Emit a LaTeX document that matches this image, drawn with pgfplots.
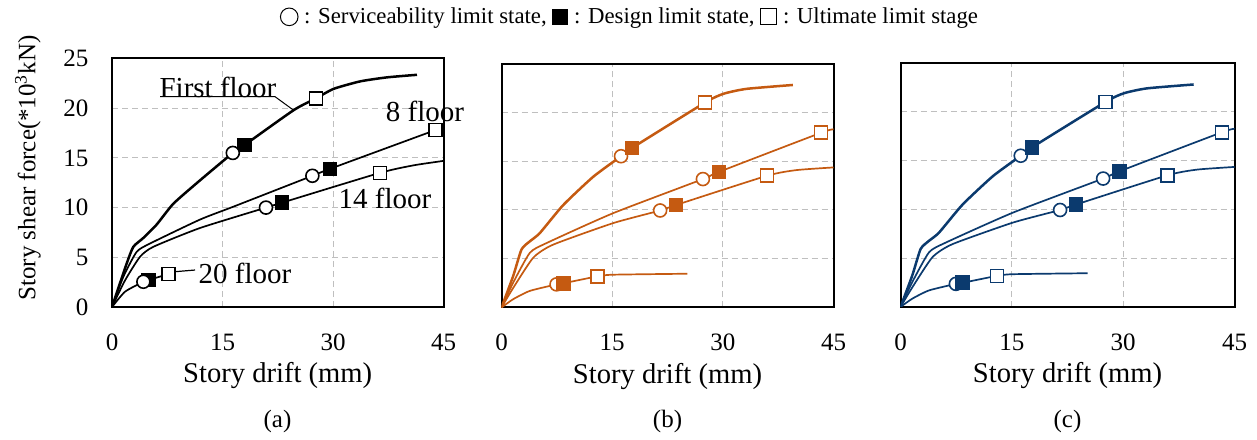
\documentclass[border=0pt]{standalone}
\usepackage{fontspec}
\setmainfont{Liberation Serif}
\usepackage{pgfplots}
\usepackage{pgfplotstable}
\pgfplotsset{compat=1.18}
\definecolor{orng}{RGB}{197,90,17}
\definecolor{dblue}{RGB}{11,58,110}
\definecolor{gridc}{RGB}{191,191,191}

% ---- panel (a) data ----
\pgfplotstableread{
x y
0 0
2.0 4.39
2.9 6.06
4.26 6.95
6.07 8.3
8.34 10.4
11.96 12.75
16.4 15.5
18.0 16.3
24.65 19.8
27.7 21.0
30.1 21.95
33.7 22.7
37.3 23.1
41.4 23.36
}\AfirstTab
\pgfplotstableread{
x y
0 0
1.54 3.04
3.35 5.55
5.17 6.39
11.96 8.8
16.5 10.1
27.2 13.2
29.6 13.9
43.9 17.8
45 18.1
}\AeightTab
\pgfplotstableread{
x y
0 0
1.77 2.68
3.8 5.05
5.62 6.06
11.96 7.95
20.9 10.0
23.1 10.5
36.4 13.5
41.0 14.26
45 14.7
}\AfourteenTab
\pgfplotstableread{
x y
0 0
1.77 1.54
4.26 2.54
4.94 2.71
7.65 3.31
}\AtwentyTab
\pgfplotstableread{
x y
16.4 15.5
27.2 13.2
20.9 10.0
4.26 2.54
}\AcircTab
\pgfplotstableread{
x y
18.0 16.3
29.6 13.9
23.1 10.5
4.94 2.71
}\AfillTab
\pgfplotstableread{
x y
27.7 21.0
43.9 17.8
36.4 13.5
7.65 3.31
}\AopenTab

% ---- panels (b),(c) data ----
\pgfplotstableread{
x y
0 0
1.58 3.22
2.71 5.94
3.84 6.78
5.2 7.63
8.37 10.5
12.44 13.4
16.2 15.5
17.7 16.35
27.6 21.0
30.1 21.9
33.2 22.4
39.5 22.8
}\BfirstTab
\pgfplotstableread{
x y
0 0
1.58 2.54
3.84 5.6
6.1 6.6
15.15 9.67
27.3 13.16
29.5 13.9
43.3 17.9
45 18.25
}\BeightTab
\pgfplotstableread{
x y
0 0
1.58 2.0
4.3 5.1
7.0 6.44
15.15 8.65
21.5 9.94
23.65 10.5
36.0 13.5
40.0 14.08
45 14.35
}\BfourteenTab
\pgfplotstableread{
x y
0 0
1.58 0.85
3.84 1.7
7.46 2.37
8.37 2.48
13.0 3.19
15.15 3.36
25.2 3.46
}\BtwentyTab
\pgfplotstableread{
x y
16.2 15.5
27.3 13.16
21.5 9.94
7.46 2.37
}\BcircTab
\pgfplotstableread{
x y
17.7 16.35
29.5 13.9
23.65 10.5
8.37 2.48
}\BfillTab
\pgfplotstableread{
x y
27.6 21.0
43.3 17.9
36.0 13.5
13.0 3.19
}\BopenTab

\pgfplotsset{
  panel/.style={
    scale only axis,
    anchor=south west,
    xmin=0, xmax=45, ymin=0, ymax=25,
    xtick={0,15,30,45}, ytick={0,5,10,15,20,25},
    grid=major,
    major grid style={gridc, dash pattern=on 3pt off 2pt, line width=0.5pt},
    axis line style={line width=1pt},
    major tick length=0pt,
    clip mode=individual,
    /pgf/number format/assume math mode=true,
    ticklabel style={font=\fontsize{12.5}{15}\selectfont},
    xticklabel style={anchor=base, yshift=-21.5pt},
    yticklabel style={anchor=east, xshift=-8.3pt},
    xlabel={Story drift (mm)},
    xlabel style={font=\fontsize{14.3}{17}\selectfont, at={(axis description cs:0.5,0)}, anchor=base, yshift=-37.85pt},
  },
  thick line/.style={line width=1.25pt, no marks, smooth, tension=0.35},
  thin line/.style={line width=0.85pt, no marks, smooth, tension=0.35},
}

\newcommand{\panelBC}[1]{%
  \addplot[#1, thick line] table {\BfirstTab};
  \addplot[#1, thin line] table {\BeightTab};
  \addplot[#1, thin line] table {\BfourteenTab};
  \addplot[#1, thin line] table {\BtwentyTab};
  \addplot[only marks, mark=*, mark size=3.25pt, mark options={draw=#1, fill=white, line width=0.8pt}] table {\BcircTab};
  \addplot[only marks, mark=square*, mark size=3.25pt, mark options={draw=#1, fill=#1, line width=0.8pt}] table {\BfillTab};
  \addplot[only marks, mark=square*, mark size=3.25pt, mark options={draw=#1, fill=white, line width=0.8pt}] table {\BopenTab};
}

\newsavebox\symcirc
\newsavebox\symfill
\newsavebox\symopen

\begin{document}%
\sbox\symcirc{\raisebox{-1.3pt}{\tikz\draw[line width=0.5pt] (0,0) circle (4.4pt);}}%
\sbox\symfill{\raisebox{-0.9pt}{\tikz\fill (0,0) rectangle (8pt,8pt);}}%
\sbox\symopen{\raisebox{-0.9pt}{\tikz\draw[line width=0.5pt] (0,0) rectangle (8pt,8pt);}}%
\begin{tikzpicture}
\path[use as bounding box] (0pt,0pt) rectangle (628.5pt,219.5pt);

\node[font=\fontsize{11.4}{14}\selectfont, inner sep=0pt] at (314.5pt,210.5pt)
  {\usebox\symcirc{} : Serviceability limit state, \usebox\symfill{} : Design limit state, \usebox\symopen{} : Ultimate limit stage};

% (a)
\begin{axis}[panel, at={(56pt,66pt)}, width=165.75pt, height=124.25pt,
  ylabel={Story shear force(*10\textsuperscript{3}kN)},
  ylabel style={font=\fontsize{12.5}{15}\selectfont, at={(axis description cs:-0.2534,0.5594)}, anchor=center}]
  \addplot[black, thick line] table {\AfirstTab};
  \addplot[black, thin line] table {\AeightTab};
  \addplot[black, thin line] table {\AfourteenTab};
  \addplot[black, thin line] table {\AtwentyTab};
  \addplot[only marks, mark=square*, mark size=3.25pt, mark options={draw=black, fill=black, line width=0.8pt}] table {\AfillTab};
  \addplot[only marks, mark=*, mark size=3.25pt, mark options={draw=black, fill=white, line width=0.8pt}] table {\AcircTab};
  \addplot[only marks, mark=square*, mark size=3.25pt, mark options={draw=black, fill=white, line width=0.8pt}] table {\AopenTab};
  \draw[line width=0.5pt] (axis cs:6.52,21.16) -- (axis cs:22.13,21.16) -- (axis cs:24.61,19.82);
  \draw[line width=0.6pt] (axis cs:8.55,3.55) -- (axis cs:11.27,3.72);
  \node[font=\fontsize{14.5}{17}\selectfont] at (axis cs:14.39,22.13) {First floor};
  \node[font=\fontsize{14.5}{17}\selectfont] at (axis cs:42.49,19.65) {8 floor};
  \node[font=\fontsize{14.5}{17}\selectfont] at (axis cs:37.06,10.94) {14 floor};
  \node[font=\fontsize{14.5}{17}\selectfont] at (axis cs:18.05,3.42) {20 floor};
\end{axis}

% (b)
\begin{axis}[panel, at={(250.75pt,65.75pt)}, width=166pt, height=122pt, yticklabels={}]
  \panelBC{orng}
\end{axis}

% (c)
\begin{axis}[panel, at={(450.25pt,66pt)}, width=167pt, height=122pt, yticklabels={}]
  \panelBC{dblue}
\end{axis}

\node[anchor=base, font=\fontsize{12.5}{15}\selectfont] at (138.75pt,6pt) {(a)};
\node[anchor=base, font=\fontsize{12.5}{15}\selectfont] at (333.75pt,6pt) {(b)};
\node[anchor=base, font=\fontsize{12.5}{15}\selectfont] at (533.75pt,6pt) {(c)};
\end{tikzpicture}%
\end{document}
